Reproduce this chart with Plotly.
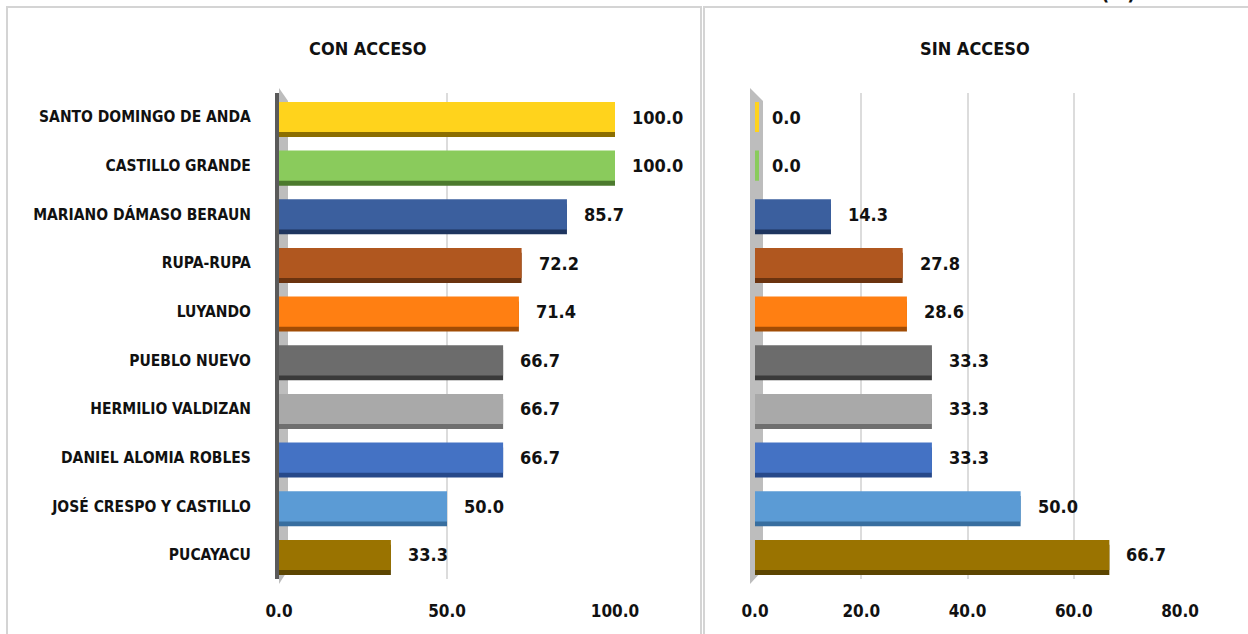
import plotly.graph_objects as go

# ---------------- data ----------------
categories = [
    "SANTO DOMINGO DE ANDA", "CASTILLO GRANDE", "MARIANO DÁMASO BERAUN",
    "RUPA-RUPA", "LUYANDO", "PUEBLO NUEVO", "HERMILIO VALDIZAN",
    "DANIEL ALOMIA ROBLES", "JOSÉ CRESPO Y CASTILLO", "PUCAYACU",
]
con_acceso = [100.0, 100.0, 85.7, 72.2, 71.4, 66.7, 66.7, 66.7, 50.0, 33.3]
sin_acceso = [0.0, 0.0, 14.3, 27.8, 28.6, 33.3, 33.3, 33.3, 50.0, 66.7]
panel_titles = ["CON ACCESO", "SIN ACCESO"]
unit_label = "(%)"
left_ticks = [0, 50, 100]
right_ticks = [0, 20, 40, 60, 80]

# ---------------- style ----------------
face_colors = ["#FFD31C", "#8ACB5C", "#3B5F9E", "#B0571F", "#FF7F12",
               "#6C6C6C", "#A9A9A9", "#4472C4", "#5B9BD5", "#9A7300"]
edge_colors = ["#8C6E00", "#4C7A2E", "#1E355F", "#6B330F", "#A14C05",
               "#3A3A3A", "#6F6F6F", "#27498A", "#386E9F", "#5C4500"]
FONT = "DejaVu Sans Condensed, Liberation Sans, Arial, sans-serif"
W, H = 1248, 634


def px(x):
    return x / W


def py(y):
    return 1 - y / H


y_dom = [py(579.3), py(92.7)]

fig = go.Figure()


def add_panel(values, xa, ya):
    zero_w = [8 if v == 0 else 0 for v in values]
    # darker lower edge (pseudo 3D)
    fig.add_trace(go.Bar(
        y=categories, x=values, orientation="h", xaxis=xa, yaxis=ya,
        width=0.62, offset=-0.21,
        marker=dict(color=edge_colors, line=dict(width=0)),
        hoverinfo="skip", showlegend=False,
    ))
    # front face
    fig.add_trace(go.Bar(
        y=categories, x=values, orientation="h", xaxis=xa, yaxis=ya,
        width=0.62, offset=-0.31,
        marker=dict(color=face_colors,
                    line=dict(width=zero_w, color=face_colors)),
        showlegend=False,
    ))
    for c, v in zip(categories, values):
        fig.add_annotation(
            x=v, y=c, xref=xa, yref=ya, text=f"{v:.1f}",
            xanchor="left", yanchor="middle", xshift=15, showarrow=False,
            font=dict(family=FONT, size=18, color="#111111", weight="bold"),
        )


add_panel(con_acceso, "x", "y")
add_panel(sin_acceso, "x2", "y2")

tick_font = dict(family=FONT, size=17, color="#111111", weight="bold")
cat_font = dict(family=FONT, size=15.5, color="#111111", weight="bold")

fig.update_layout(
    width=W, height=H,
    margin=dict(l=0, r=0, t=0, b=0, autoexpand=False),
    paper_bgcolor="white", plot_bgcolor="white",
    barmode="overlay", bargap=0.38,
    xaxis=dict(domain=[px(279), px(615)], range=[0, 100], anchor="y",
               tickvals=left_ticks, ticktext=[f"{t:.1f}" for t in left_ticks],
               tickfont=tick_font, showgrid=True, gridcolor="#dcdcdc",
               gridwidth=1.5, zeroline=False, showline=False, ticks="",
               ticklabelstandoff=20, automargin=False, fixedrange=True),
    yaxis=dict(domain=y_dom, anchor="x", type="category",
               categoryorder="array", categoryarray=categories,
               autorange="reversed", showline=True, linecolor="#5a5a5a",
               linewidth=4, ticks="", tickfont=cat_font,
               ticklabelstandoff=21, showgrid=False, automargin=False,
               fixedrange=True),
    xaxis2=dict(domain=[px(755), px(1180)], range=[0, 80], anchor="y2",
                tickvals=right_ticks,
                ticktext=[f"{t:.1f}" for t in right_ticks],
                tickfont=tick_font, showgrid=True, gridcolor="#dcdcdc",
                gridwidth=1.5, zeroline=False, showline=False, ticks="",
                ticklabelstandoff=20, automargin=False, fixedrange=True),
    yaxis2=dict(domain=y_dom, anchor="x2", type="category",
                categoryorder="array", categoryarray=categories,
                autorange="reversed", showline=False, ticks="",
                showticklabels=False, showgrid=False, automargin=False,
                fixedrange=True),
)

# panel frames
frame = dict(type="rect", xref="paper", yref="paper",
             line=dict(color="#d4d4d4", width=2), layer="below")
fig.add_shape(x0=px(7), x1=px(701), y0=py(660), y1=py(7), **frame)
fig.add_shape(x0=px(704), x1=px(1260), y0=py(660), y1=py(7), **frame)

# 3D side walls next to the category axes
for x0, w in ((279, 9), (750, 13)):
    fig.add_shape(
        type="path", xref="paper", yref="paper", layer="below",
        path=(f"M {px(x0)},{py(88)} L {px(x0 + w)},{py(101)} "
              f"L {px(x0 + w)},{py(570)} L {px(x0)},{py(584)} Z"),
        fillcolor="#bdbdbd", line=dict(width=0),
    )

# panel titles
for t, xc in zip(panel_titles, (368, 975)):
    fig.add_annotation(
        x=px(xc), y=py(49), xref="paper", yref="paper", text=t,
        showarrow=False, xanchor="center", yanchor="middle",
        font=dict(family=FONT, size=18, color="#111111", weight="bold"),
    )

fig.add_annotation(
    x=px(1118), y=py(-7), xref="paper", yref="paper", text=unit_label,
    showarrow=False, xanchor="center", yanchor="middle",
    font=dict(family=FONT, size=20, color="#111111", weight="bold"),
)

fig.write_html("out.html",
               config={"displayModeBar": False},
               post_script="document.body.style.margin='0';"
                           "document.body.style.overflow='hidden';")
